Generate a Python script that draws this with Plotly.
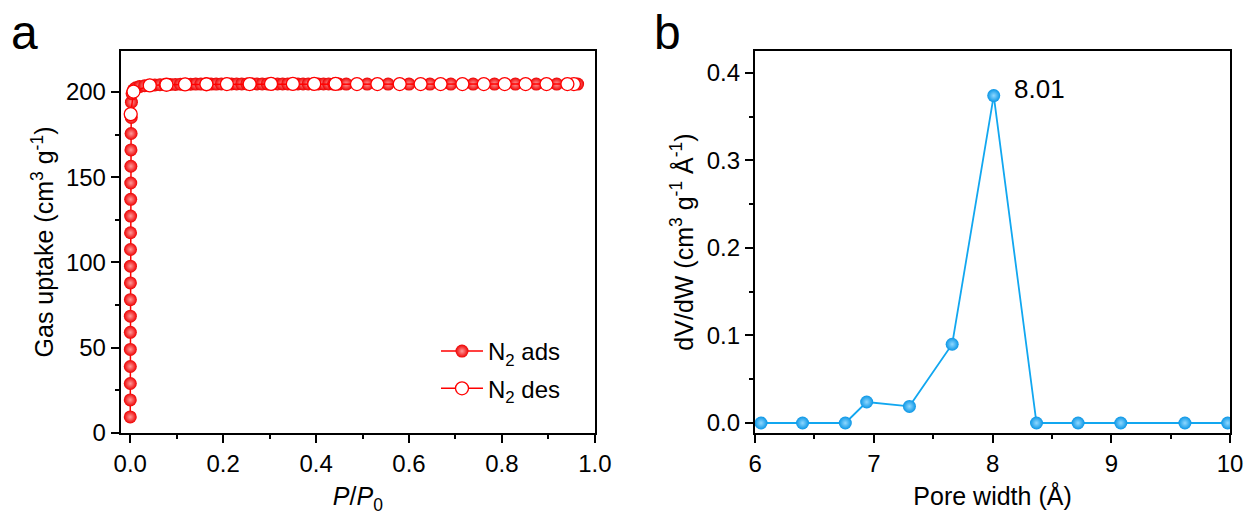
import plotly.graph_objects as go

# ---- N2 isotherm (panel a) ----
ads_p = [0.00002, 0.00004, 0.00006, 0.00009, 0.00012, 0.00016, 0.00021, 0.00027,
         0.00034, 0.00042, 0.00052, 0.00063, 0.00076, 0.00091, 0.0011, 0.0013,
         0.0015, 0.0018, 0.0021, 0.0025, 0.0040, 0.0070, 0.012, 0.020, 0.031,
         0.042, 0.053, 0.064, 0.075, 0.086, 0.097, 0.108, 0.119, 0.130, 0.141,
         0.152, 0.163, 0.174, 0.185, 0.196, 0.207, 0.218, 0.229, 0.240, 0.251,
         0.262, 0.273, 0.284, 0.295, 0.306, 0.317, 0.328, 0.339, 0.350, 0.361,
         0.372, 0.383, 0.394, 0.405, 0.416, 0.427, 0.438, 0.449, 0.465, 0.510,
         0.555, 0.600, 0.645, 0.690, 0.738, 0.784, 0.829, 0.874, 0.918, 0.963]
ads_v = [9.4, 19.4, 29.0, 39.0, 49.0, 59.0, 68.5, 78.2, 88.0, 97.8, 107.6, 117.4,
         127.2, 137.0, 146.6, 156.4, 166.0, 175.6, 185.0, 194.0, 199.0, 201.2,
         202.4, 203.1, 203.6, 203.9, 204.1, 204.2, 204.3, 204.4, 204.4, 204.5,
         204.5, 204.5, 204.6, 204.6, 204.6, 204.6, 204.6, 204.7, 204.7, 204.7,
         204.7, 204.7, 204.7, 204.7, 204.7, 204.7, 204.7, 204.7, 204.7, 204.7,
         204.7, 204.7, 204.7, 204.7, 204.7, 204.7, 204.7, 204.7, 204.7, 204.6,
         204.6, 204.6, 204.6, 204.6, 204.6, 204.6, 204.6, 204.6, 204.6, 204.6,
         204.6, 204.6, 204.6]

des_p = [0.955, 0.941, 0.896, 0.851, 0.806, 0.761, 0.715, 0.668, 0.625, 0.580,
         0.532, 0.488, 0.442, 0.396, 0.350, 0.303, 0.257, 0.208, 0.164, 0.118,
         0.078, 0.042, 0.007, 0.001]
des_v = [204.6, 204.6, 204.6, 204.6, 204.6, 204.6, 204.6, 204.6, 204.6, 204.6,
         204.6, 204.6, 204.7, 204.7, 204.7, 204.7, 204.6, 204.6, 204.5, 204.4,
         204.2, 203.8, 200.2, 187.0]

# ---- Pore size distribution (panel b) ----
pore_w = [6.05, 6.40, 6.76, 6.94, 7.30, 7.66, 8.01, 8.37, 8.72, 9.08, 9.62, 9.98]
dvdw = [0.0, 0.0, 0.0, 0.024, 0.019, 0.090, 0.374, 0.0, 0.0, 0.0, 0.0, 0.0]

W, H = 1247, 517
RED = "#ff0000"
BLUE = "#11a7f0"
FONT = "Liberation Sans, Arial, sans-serif"
TICK_SIZE = 24
TITLE_SIZE = 25

fig = go.Figure()

fig.add_trace(go.Scatter(
    x=ads_p, y=ads_v, mode="lines+markers", name="N<sub>2</sub> ads",
    legendgroup="ads",
    line=dict(color=RED, width=1.5),
    marker=dict(size=13, color="#ee0000", symbol="circle",
                gradient=dict(type="radial", color="#ff9a9a"),
                line=dict(width=0)),
    xaxis="x", yaxis="y"))

fig.add_trace(go.Scatter(
    x=des_p, y=des_v, mode="lines+markers", name="N<sub>2</sub> des",
    legendgroup="des",
    line=dict(color=RED, width=1.5),
    marker=dict(size=13, color="white", symbol="circle",
                line=dict(color=RED, width=1.3)),
    xaxis="x", yaxis="y"))

fig.add_trace(go.Scatter(
    x=pore_w, y=dvdw, mode="lines+markers", showlegend=False,
    line=dict(color=BLUE, width=1.8),
    marker=dict(size=13, color="#0a96e6", symbol="circle",
                gradient=dict(type="radial", color="#8fd8ff"),
                line=dict(width=0)),
    xaxis="x2", yaxis="y2"))

peak_i = dvdw.index(max(dvdw))
fig.add_annotation(
    x=pore_w[peak_i], y=dvdw[peak_i], xref="x2", yref="y2",
    text=f"{pore_w[peak_i]:.2f}", showarrow=False,
    xanchor="left", yanchor="middle", xshift=18, yshift=7,
    font=dict(family=FONT, size=26, color="black"))

axis_common = dict(
    showline=True, linecolor="black", linewidth=2.4, mirror=True,
    ticks="outside", ticklen=8, tickwidth=2, tickcolor="black",
    showgrid=False, zeroline=False, automargin=False,
    tickfont=dict(family=FONT, size=TICK_SIZE, color="black"),
    title_font=dict(family=FONT, size=TITLE_SIZE, color="black"),
)
minor_common = dict(ticklen=4, tickwidth=2, tickcolor="black", ticks="outside")

fig.update_layout(
    width=W, height=H,
    margin=dict(l=0, r=0, t=0, b=0),
    paper_bgcolor="white", plot_bgcolor="white",
    xaxis=dict(axis_common, domain=[0.097, 0.477], range=[-0.02, 1.0],
               dtick=0.2, tick0=0, tickformat=".1f",
               minor=dict(minor_common, dtick=0.1),
               title=dict(text="<i>P</i>/<i>P</i><sub>0</sub>", standoff=12),
               anchor="y"),
    yaxis=dict(axis_common, domain=[0.1625, 0.9014], range=[0, 224],
               dtick=50, tick0=0,
               minor=dict(minor_common, dtick=25),
               title=dict(text="Gas uptake (cm<sup>3</sup> g<sup>-1</sup>)", standoff=5),
               anchor="x"),
    xaxis2=dict(axis_common, domain=[0.6055, 0.9864], range=[6, 10],
                dtick=1, tick0=6,
                minor=dict(minor_common, dtick=0.5),
                title=dict(text="Pore width (Å)", standoff=12),
                anchor="y2"),
    yaxis2=dict(axis_common, domain=[0.1625, 0.9014], range=[-0.0114, 0.425],
                dtick=0.1, tick0=0, tickformat=".1f",
                minor=dict(minor_common, dtick=0.05),
                title=dict(text="dV/dW (cm<sup>3</sup> g<sup>-1</sup> Å<sup>-1</sup>)", standoff=6),
                anchor="x2"),
    legend=dict(x=436 / W, y=1 - 329 / H, xanchor="left", yanchor="top",
                bgcolor="rgba(0,0,0,0)", borderwidth=0,
                font=dict(family=FONT, size=24, color="black"),
                itemwidth=42, traceorder="grouped", tracegroupgap=3),
    font=dict(family=FONT, color="black"),
)

# Panel letters
fig.add_annotation(x=9 / W, y=1 - 61 / H, xref="paper", yref="paper", text="a",
                   showarrow=False, xanchor="left", yanchor="bottom",
                   font=dict(family=FONT, size=48, color="black"))
fig.add_annotation(x=652 / W, y=1 - 61 / H, xref="paper", yref="paper", text="b",
                   showarrow=False, xanchor="left", yanchor="bottom",
                   font=dict(family=FONT, size=48, color="black"))

fig.write_html("out.html")
